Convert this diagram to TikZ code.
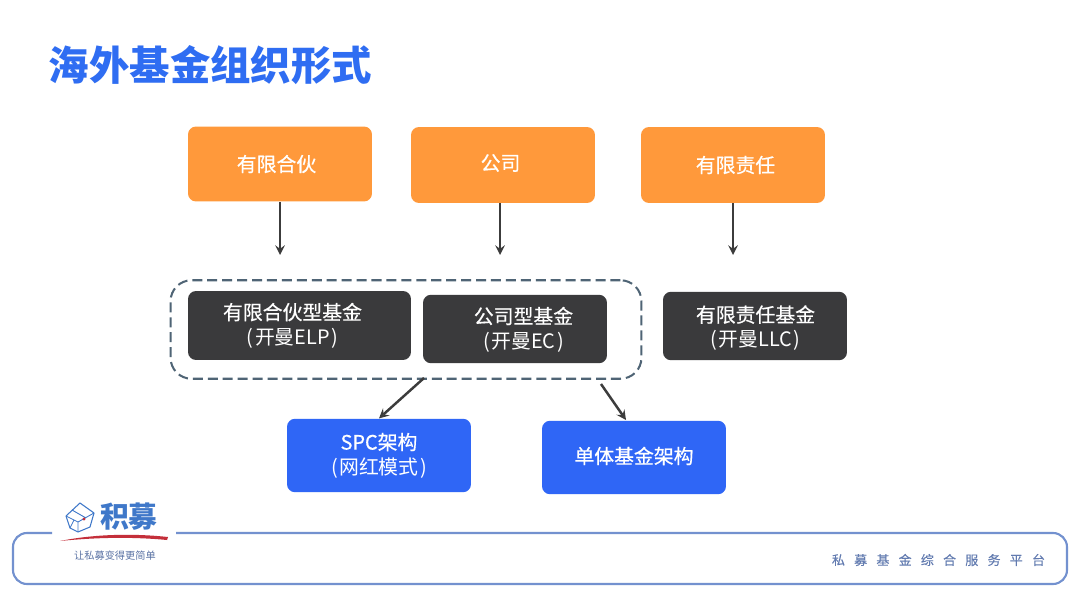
\documentclass[tikz,border=0pt]{standalone}
\usepackage{fontspec}
\usepackage{xcolor}
\setmainfont{Noto Sans CJK SC}
\newfontfamily\mediumfont[FakeBold=0.5]{Noto Sans CJK SC}
\newfontfamily\spacedfont[LetterSpace=71,FakeBold=0.2]{Noto Sans CJK SC}
\definecolor{title_blue}{HTML}{2F6DF2}
\definecolor{box_orange}{HTML}{FF993B}
\definecolor{box_dark}{HTML}{3A3A3C}
\definecolor{box_blue}{HTML}{2F66F6}
\definecolor{group_grey}{HTML}{4F6475}
\definecolor{arrow_grey}{HTML}{3C3C3C}
\definecolor{frame_blue}{HTML}{7391CF}
\definecolor{logo_blue}{HTML}{3F78C9}
\definecolor{logo_red}{HTML}{C42F3A}
\tikzset{
  box/.style={rounded corners=0.16cm,inner sep=0pt},
  orangebox/.style={box,fill=box_orange,minimum width=3.68cm,minimum height=1.5cm},
  darkbox/.style={box,fill=box_dark,minimum width=3.68cm,minimum height=1.37cm},
  bluebox/.style={box,fill=box_blue,minimum width=3.68cm,minimum height=1.47cm},
  boxtext/.style={text=white,align=center,font=\fontsize{11.3}{14}\selectfont,inner sep=0pt},
  flow/.style={->,>=stealth,line width=1.4pt,arrow_grey},
}
\begin{document}
\begin{tikzpicture}[x=0.02cm,y=-0.02cm]
              \useasboundingbox (0,0) rectangle (1080,608);
              \fill[white] (0,0) rectangle (1080,608);
              \node[text=title_blue,font=\fontsize{23}{27}\selectfont\bfseries,inner sep=0pt] (title) at (210.5,65) {海外基金组织形式};
              % top row
              \node[orangebox] (lp) at (280,164) {};
              \node[boxtext] (lptext) at (276.5,164) {\mediumfont 有限合伙};
              \node[orangebox,minimum height=1.52cm] (corp) at (503,165) {};
              \node[boxtext] (corptext) at (500.5,163) {\mediumfont 公司};
              \node[orangebox,minimum height=1.52cm] (ltd) at (733,165) {};
              \node[boxtext] (ltdtext) at (735.5,165) {\mediumfont 有限责任};
              % funds
              \node[draw=group_grey,line width=1.15pt,dash pattern=on 5.7pt off 2.8pt,rounded corners=0.42cm,minimum width=9.42cm,minimum height=1.97cm,inner sep=0pt] (group) at (406,329.5) {};
              \node[darkbox,minimum width=4.46cm,minimum height=1.38cm] (elp) at (299.5,325.5) {};
              \node[boxtext] (elptext) at (292.5,325.5) {{\mediumfont 有限合伙型基金}\\(\kern0.9pt 开曼ELP\kern0.9pt)};
              \node[darkbox] (ec) at (515,329) {};
              \node[boxtext] (ectext) at (523.5,329.5) {{\mediumfont 公司型基金}\\(\kern0.9pt 开曼EC\kern0.9pt)};
              \node[darkbox] (llc) at (755,326) {};
              \node[boxtext] (llctext) at (755.5,328) {{\mediumfont 有限责任基金}\\(\kern0.9pt 开曼LLC\kern0.9pt)};
              % structures
              \node[bluebox] (spc) at (379,455.5) {};
              \node[boxtext] (spctext) at (379,455.5) {{\mediumfont SPC架构}\\(\kern0.9pt 网红模式\kern0.9pt)};
              \node[bluebox] (single) at (634,457.5) {};
              \node[boxtext] (singletext) at (634,456) {\mediumfont 单体基金架构};
              % arrows
              \coordinate (lptip) at (280,255);
              \coordinate (corpstart) at (500,203);
              \coordinate (corptip) at (500,255);
              \coordinate (ltdtip) at (733,255);
              \coordinate (forkleft) at (424,378);
              \coordinate (forkright) at (601,384);
              \coordinate (singletip) at (626,420);
              \draw[flow] (lp.south) -- (lptip);
              \draw[flow] (corpstart) -- (corptip);
              \draw[flow] (ltd.south) -- (ltdtip);
              \draw[flow] (forkleft) -- (spc.north);
              \draw[flow] (forkright) -- (singletip);
              % footer frame, open behind the logo
              \draw[frame_blue,line width=1.2pt,rounded corners=0.28cm] (52,533) -- (13,533) -- (13,584) -- (1067,584) -- (1067,533) -- (176,533);
              \node[text=frame_blue!85!black,font=\fontsize{7.4}{9}\spacedfont,inner sep=0pt] (slogan) at (938.5,560) {私募基金综合服务平台};
              % logo
              \draw[logo_blue,line width=0.6pt,line join=round] (66,516) -- (80,503) -- (94,513) -- (90,527) -- (78,532) -- (70,528) -- cycle;
              \draw[logo_blue,line width=0.5pt] (66,516) -- (78,522) -- (94,513) (78,522) -- (78,532) (72,510) -- (86,518) (70,528) -- (74,520);
              \fill[logo_red] (84,519) circle (1.6);
              \node[text=logo_blue,font=\fontsize{16.4}{18}\selectfont\bfseries,inner sep=0pt] (logotext) at (129,517) {积募};
              \fill[logo_red] (60,541) .. controls (100,533) and (140,534) .. (168,537) -- (167,540) .. controls (135,537) and (100,537) .. (60,541) -- cycle;
              \node[text=frame_blue!80!black,font=\fontsize{5.8}{7}\selectfont,inner sep=0pt] (tagline) at (115,556) {让私募变得更简单};
          \end{tikzpicture}
\end{document}
